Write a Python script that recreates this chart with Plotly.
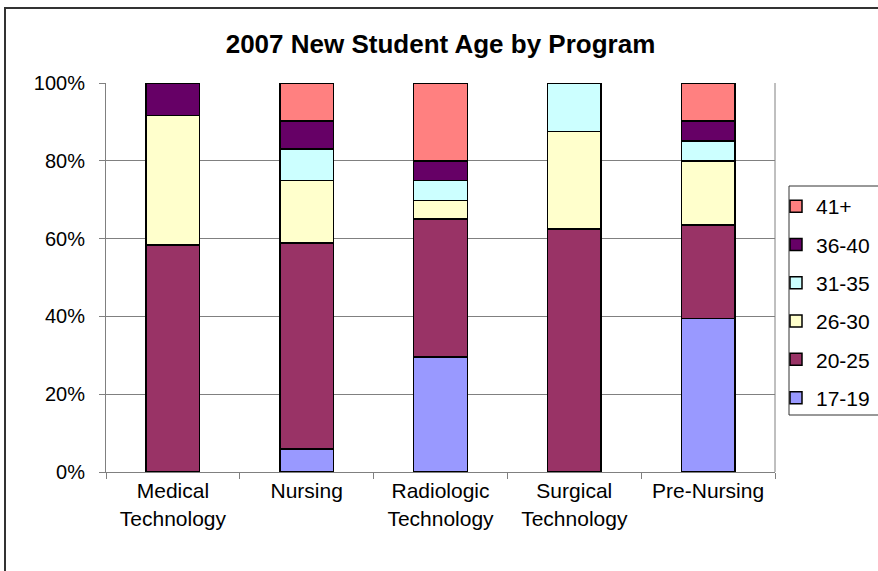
import plotly.graph_objects as go

# programas y porcentajes por grupo de edad
programs = ["Medical<br>Technology", "Nursing", "Radiologic<br>Technology",
            "Surgical<br>Technology", "Pre-Nursing"]
age_groups = ["17-19", "20-25", "26-30", "31-35", "36-40", "41+"]

p_17_19 = [0, 5.9, 29.6, 0, 39.5]
p_20_25 = [58.3, 53.0, 35.4, 62.5, 24.0]
p_26_30 = [33.4, 16.0, 4.8, 25.0, 16.5]
p_31_35 = [0, 8.1, 5.1, 12.5, 5.1]
p_36_40 = [8.3, 7.2, 5.1, 0, 5.1]
p_41 = [0, 9.8, 20.0, 0, 9.8]

values = [p_17_19, p_20_25, p_26_30, p_31_35, p_36_40, p_41]
colors = ["#9999FF", "#993366", "#FFFFCC", "#CCFFFF", "#660066", "#FF8080"]

fig = go.Figure()
for i, (name, vals, col) in enumerate(zip(age_groups, values, colors)):
    fig.add_trace(go.Bar(x=programs, y=vals, name=name, legendgroup=name,
                         legendrank=100 - i,
                         marker=dict(color=col, line=dict(color="black", width=1.5))))

fig.update_layout(
    barmode="stack",
    bargap=0.6,
    width=878, height=571,
    margin=dict(l=106, r=103, t=83, b=99, autoexpand=False),
    paper_bgcolor="white", plot_bgcolor="white",
    font=dict(family="Liberation Sans, Arial", size=20, color="black"),
    title=dict(text="<b>2007 New Student Age by Program</b>", x=0.5, xref="paper",
               y=1 - 44 / 571, yanchor="middle", font=dict(size=26)),
    legend=dict(x=(776 - 106) / 669, y=(472 - 186) / 389, xanchor="left", yanchor="top",
                traceorder="grouped", tracegroupgap=8, itemwidth=30,
                borderwidth=0, bgcolor="rgba(0,0,0,0)",
                font=dict(size=21)),
    showlegend=True,
)

fig.update_yaxes(range=[0, 100], tickvals=[0, 20, 40, 60, 80, 100],
                 ticktext=["0%", "20%", "40%", "60%", "80%", "100%"],
                 showgrid=True, gridcolor="#808080", gridwidth=1,
                 showline=True, linecolor="#808080", linewidth=1,
                 ticks="outside", ticklen=6, tickcolor="#808080", zeroline=False,
                 ticklabelstandoff=10)
fig.update_xaxes(tickson="boundaries", ticks="outside", ticklen=6, tickcolor="#808080",
                 showline=True, linecolor="#808080", linewidth=1, showgrid=False,
                 tickfont=dict(size=21))

# marco exterior del grafico
fig.add_shape(type="rect", xref="paper", yref="paper",
              x0=(5 - 106) / 669, x1=1.3, y0=-0.4, y1=(472 - 8) / 389,
              line=dict(color="#333333", width=2), layer="below")
# borde derecho del area de trazado
fig.add_shape(type="line", xref="paper", yref="paper", x0=1, x1=1, y0=0, y1=1,
              line=dict(color="#808080", width=1))
# caja de la leyenda
fig.add_shape(type="rect", xref="paper", yref="paper",
              x0=(789 - 106) / 669, x1=1.3, y0=(472 - 415) / 389, y1=(472 - 186) / 389,
              line=dict(color="#333333", width=1), fillcolor="white", layer="above")

fig.write_html("out.html", config={"displayModeBar": False},
               post_script="document.body.style.margin='0';")
